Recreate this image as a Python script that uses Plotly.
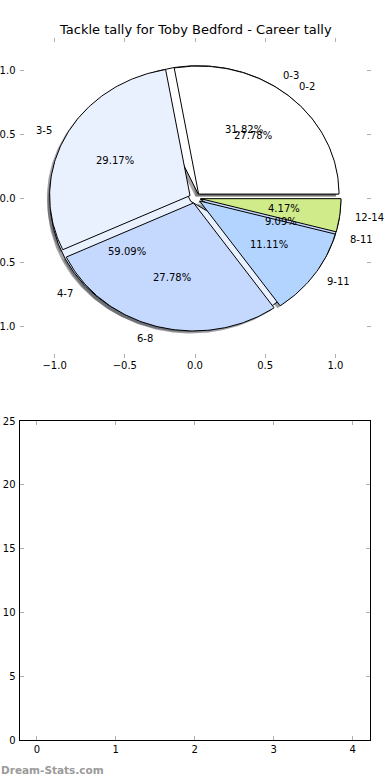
import numpy as np
import plotly.graph_objects as go

# ---- data ----
title_text = "Tackle tally for Toby Bedford - Career tally"
# pie A (drawn on top): bins of 3
labels_a = ["0-2", "3-5", "6-8", "9-11", "12-14"]
values_a = [20, 21, 20, 8, 3]
# pie B (drawn underneath): bins of 4
labels_b = ["0-3", "4-7", "8-11"]
values_b = [7, 13, 2]
colors = ["#ffffff", "#eaf1fe", "#c5d8fe", "#b2d4fe", "#d0eb8a"]
explode = 0.04
x_ticks = [-1.0, -0.5, 0.0, 0.5, 1.0]
y_ticks = [-1.0, -0.5, 0.0, 0.5, 1.0]
x2_ticks = [0, 1, 2, 3, 4]
y2_ticks = [0, 5, 10, 15, 20, 25]

W, H = 390, 780
FONT = "DejaVu Sans"


def hex_rgb(h):
    h = h.lstrip("#")
    return tuple(int(h[i:i + 2], 16) for i in (0, 2, 4))


def wedges(values):
    total = float(sum(values))
    out = []
    cum = 0.0
    for v in values:
        frac = v / total
        t1 = 360.0 * cum
        t2 = 360.0 * (cum + frac)
        tm = np.deg2rad((t1 + t2) / 2)
        cx = explode * np.cos(tm)
        cy = explode * np.sin(tm)
        out.append((t1, t2, tm, cx, cy, frac))
        cum += frac
    return out


def poly(t1, t2, cx, cy, dx=0.0, dy=0.0):
    n = max(8, int((t2 - t1) / 1.0))
    th = np.deg2rad(np.linspace(t1, t2, n))
    xs = np.concatenate([[cx], cx + np.cos(th), [cx]]) + dx
    ys = np.concatenate([[cy], cy + np.sin(th), [cy]]) + dy
    return xs, ys


fig = go.Figure()

wa = wedges(values_a)
wb = wedges(values_b)

# shadows (below all wedges)
for ws in (wb, wa):
    for i, (t1, t2, tm, cx, cy, frac) in enumerate(ws):
        xs, ys = poly(t1, t2, cx, cy, -0.02, -0.02)
        r, g, b = hex_rgb(colors[i % len(colors)])
        fig.add_trace(go.Scatter(
            x=xs, y=ys, mode="lines", fill="toself",
            fillcolor=f"rgba({int(0.3*r)},{int(0.3*g)},{int(0.3*b)},0.5)",
            line=dict(width=0), hoverinfo="skip", showlegend=False,
            xaxis="x", yaxis="y"))

# wedges: pie B first, pie A on top
for ws, labs in ((wb, labels_b), (wa, labels_a)):
    for i, (t1, t2, tm, cx, cy, frac) in enumerate(ws):
        xs, ys = poly(t1, t2, cx, cy)
        fig.add_trace(go.Scatter(
            x=xs, y=ys, mode="lines", fill="toself",
            fillcolor=colors[i % len(colors)],
            line=dict(width=1, color="black"), name=labs[i],
            hoverinfo="name", showlegend=False,
            xaxis="x", yaxis="y"))

annotations = []
for ws, labs in ((wb, labels_b), (wa, labels_a)):
    for i, (t1, t2, tm, cx, cy, frac) in enumerate(ws):
        lx = cx + 1.1 * np.cos(tm)
        ly = cy + 1.1 * np.sin(tm)
        annotations.append(dict(
            x=lx, y=ly, xref="x", yref="y", text=labs[i], showarrow=False,
            xanchor="left" if lx > 0 else "right", yanchor="middle",
            borderpad=0, font=dict(family=FONT, size=10, color="black")))
        px = cx + 0.6 * np.cos(tm)
        py = cy + 0.6 * np.sin(tm)
        annotations.append(dict(
            x=px, y=py, xref="x", yref="y", text=f"{100*frac:.2f}%",
            showarrow=False, xanchor="center", yanchor="middle",
            borderpad=0, font=dict(family=FONT, size=10, color="black")))

# title
annotations.append(dict(
    x=(19.5 + 370.5) / 2 / W, y=1 - 30 / H, xref="paper", yref="paper",
    text=title_text, showarrow=False, xanchor="center", yanchor="middle",
    font=dict(family=FONT, size=13, color="black")))
# watermark
annotations.append(dict(
    x=0, y=1 - 770 / H, xref="paper", yref="paper",
    text="<b>Dream-Stats.com</b>", showarrow=False, xanchor="left",
    yanchor="middle", borderpad=0,
    font=dict(family=FONT, size=10.5, color="#9a9a9a")))

# empty trace for lower axes
fig.add_trace(go.Scatter(x=[], y=[], xaxis="x2", yaxis="y2",
                         showlegend=False, hoverinfo="skip"))

tick_common = dict(ticks="inside", ticklen=4, tickcolor="#b0b0b0",
                   tickwidth=1, showgrid=False, zeroline=False,
                   automargin=False, fixedrange=True,
                   tickfont=dict(family=FONT, size=10, color="black"))

fig.update_layout(
    template="none",
    width=W, height=H, margin=dict(l=0, r=0, t=0, b=0, pad=0),
    paper_bgcolor="white", plot_bgcolor="white",
    showlegend=False, annotations=annotations,
    xaxis=dict(domain=[19.5 / W, 370.5 / W], range=[-1.25, 1.25],
               tickvals=x_ticks, tickformat=".1f", showline=False,
               mirror="ticks", anchor="y", **tick_common),
    yaxis=dict(domain=[1 - 358 / H, 1 - 38 / H], range=[-1.25, 1.25],
               tickvals=y_ticks, tickformat=".1f", showline=False,
               mirror="ticks", anchor="x", ticklabelstandoff=3,
               **tick_common),
    xaxis2=dict(domain=[19.5 / W, 370 / W], range=[-0.22, 4.22],
                tickvals=x2_ticks, showline=True, linecolor="black",
                linewidth=1, mirror="ticks", anchor="y2", **tick_common),
    yaxis2=dict(domain=[1 - 740 / H, 1 - 421 / H], range=[0, 25],
                tickvals=y2_ticks, showline=True, linecolor="black",
                linewidth=1, mirror="ticks", anchor="x2",
                ticklabelstandoff=1, **tick_common),
)

fig.write_html("out.html", config={"displayModeBar": False},
               post_script="document.body.style.margin='0';"
                           "document.body.style.overflow='hidden';")
